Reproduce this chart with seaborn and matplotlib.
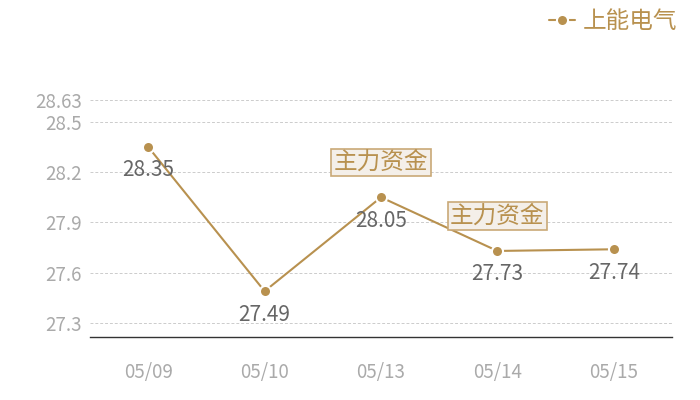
import matplotlib
matplotlib.use("Agg")
import matplotlib.pyplot as plt
import seaborn as sns
import pandas as pd

dates = ["05/09", "05/10", "05/13", "05/14", "05/15"]
prices = [28.35, 27.49, 28.05, 27.73, 27.74]
series_name = "上能电气"
yticks = [27.3, 27.6, 27.9, 28.2, 28.5, 28.63]
flag_dates = ["05/13", "05/14"]
flag_text = "主力资金"

sns.set_theme(style="white")
plt.rcParams['font.family'] = ['Noto Sans CJK SC', 'DejaVu Sans']

gold = "#b8914f"
df = pd.DataFrame({"date": dates, "price": prices})

fig = plt.figure(figsize=(7, 4), dpi=100)
ax = fig.add_axes([0.1286, 0.1575, 0.8314, 0.5925])

sns.lineplot(data=df, x="date", y="price", ax=ax, color=gold, linewidth=1.5,
             marker="o", markersize=8, markeredgecolor="white", markeredgewidth=1.5,
             sort=False, label=series_name)

ax.set_xlim(-0.5, len(dates) - 0.5)
ax.set_ylim(27.217, 28.63)
ax.set_yticks(yticks)
ax.set_yticklabels([f"{v:g}" for v in yticks])
ax.grid(axis="y", color="#cccccc", linestyle=(0, (3, 2)), linewidth=0.7)
ax.set_axisbelow(True)
for s in ["top", "right", "left"]:
    ax.spines[s].set_visible(False)
ax.spines["bottom"].set_color("#333333")
ax.spines["bottom"].set_linewidth(1)
ax.tick_params(axis="both", length=0, labelcolor="#aaaaaa", labelsize=13.5)
ax.tick_params(axis="x", pad=18)
ax.tick_params(axis="y", pad=6)
ax.set_xlabel("")
ax.set_ylabel("")

for i, v in enumerate(prices):
    ax.annotate(f"{v:.2f}", (i, v), xytext=(0, -9), textcoords="offset points",
                ha="center", va="top", color="#666666", fontsize=15)

for d in flag_dates:
    i = dates.index(d)
    ax.annotate(flag_text, (i, prices[i]), xytext=(0, 25), textcoords="offset points",
                ha="center", va="center", color=gold, fontsize=17,
                bbox=dict(boxstyle="square,pad=0.1", facecolor="#f4efe9",
                          edgecolor="#c9a977", linewidth=1.2))

leg = ax.legend(loc="upper right", bbox_to_anchor=(1.045, 1.47), frameon=False,
                fontsize=17, handlelength=1.1, handletextpad=0.3,
                labelcolor=gold)

fig.savefig("out.png", dpi=100)
